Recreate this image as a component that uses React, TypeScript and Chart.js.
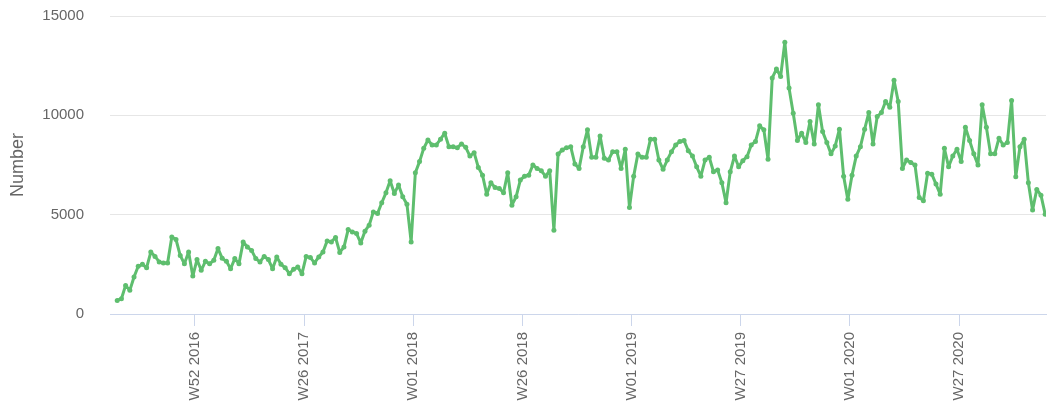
import React, { useEffect, useRef } from "react";
import { Chart, registerables } from "chart.js";

Chart.register(...registerables);

// Weekly values, starting at W33 2016
const VALUES: number[] = [
  680, 770, 1440, 1190, 1860, 2400, 2500, 2330, 3120, 2900,
  2620, 2570, 2570, 3880, 3750, 2950, 2530, 3120, 1910, 2740,
  2200, 2650, 2530, 2700, 3300, 2800, 2650, 2280, 2790, 2530,
  3630, 3370, 3200, 2790, 2620, 2900, 2740, 2280, 2870, 2500,
  2330, 2030, 2250, 2360, 2030, 2900, 2840, 2570, 2870, 3120,
  3680, 3630, 3850, 3100, 3370, 4250, 4130, 4050, 3580, 4170,
  4470, 5140, 5060, 5600, 6100, 6710, 6070, 6490, 5900, 5530,
  3630, 7110, 7670, 8340, 8760, 8510, 8510, 8800, 9100, 8420,
  8420, 8370, 8560, 8390, 7950, 8120, 7380, 6990, 6030, 6610,
  6370, 6320, 6100, 7110, 5480, 5900, 6740, 6940, 6990, 7500,
  7330, 7210, 6940, 7210, 4220, 8050, 8260, 8370, 8420, 7550,
  7330, 8420, 9270, 7890, 7890, 8960, 7840, 7750, 8170, 8170,
  7330, 8290, 5360, 6940, 8050, 7890, 7890, 8800, 8800, 7750,
  7280, 7750, 8170, 8510, 8680, 8730, 8220, 7950, 7410, 6940,
  7750, 7890, 7160, 7250, 6610, 5600, 7160, 7950, 7410, 7720,
  7920, 8510, 8680, 9470, 9270, 7790, 11880, 12330, 11960, 13680,
  11370, 10110, 8730, 9100, 8630, 9690, 8560, 10530, 9180, 8630,
  8060, 8460, 9300, 6940, 5770, 6990, 7950, 8420, 9300, 10140,
  8560, 9940, 10140, 10700, 10410, 11760, 10700, 7330, 7750, 7620,
  7500, 5870, 5700, 7080, 7040, 6540, 6030, 8340, 7410, 7950,
  8290, 7670, 9400, 8730, 8060, 7500, 10530, 9400, 8060, 8060,
  8850, 8510, 8630, 10750, 6910, 8420, 8800, 6610, 5230, 6270,
  5980, 5020,
];

const TICK_LABELS: string[] = [
  "W52 2016",
  "W26 2017",
  "W01 2018",
  "W26 2018",
  "W01 2019",
  "W27 2019",
  "W01 2020",
  "W27 2020",
];
const FIRST_TICK = 18.5;
const TICK_STEP = 26;

const Y_TICKS: number[] = [0, 5000, 10000, 15000];
const Y_TITLE = "Number";

const LINE_COLOR = "rgb(94, 190, 110)";
const FONT_FAMILY = '"Liberation Sans", Arial, Helvetica, sans-serif';

export default function App() {
  const canvasRef = useRef<HTMLCanvasElement | null>(null);

  useEffect(() => {
    if (!canvasRef.current) return;
    const points = VALUES.map((v, i) => ({ x: i, y: v }));
    const tickValues = TICK_LABELS.map((_, k) => FIRST_TICK + k * TICK_STEP);

    const chart = new Chart(canvasRef.current, {
      type: "line",
      data: {
        datasets: [
          {
            data: points,
            borderColor: LINE_COLOR,
            backgroundColor: LINE_COLOR,
            borderWidth: 3,
            borderJoinStyle: "round",
            borderCapStyle: "round",
            pointRadius: 2.5,
            pointBorderWidth: 0,
            pointBackgroundColor: LINE_COLOR,
            tension: 0,
            fill: false,
          },
        ],
      },
      options: {
        animation: false,
        responsive: true,
        maintainAspectRatio: false,
        layout: { padding: { top: 16, right: 2, bottom: 0, left: 0 } },
        plugins: {
          legend: { display: false },
          tooltip: { enabled: false },
        },
        scales: {
          x: {
            type: "linear",
            min: -1.72,
            max: 221.2,
            afterBuildTicks: (scale: any) => {
              scale.ticks = tickValues.map((v) => ({ value: v }));
            },
            afterFit: (scale: any) => {
              scale.height = 96;
            },
            grid: {
              display: true,
              drawOnChartArea: false,
              drawTicks: true,
              tickLength: 12,
              color: "#ccd6eb",
              lineWidth: 1,
            },
            border: { display: true, color: "#ccd6eb", width: 1 },
            ticks: {
              autoSkip: false,
              maxRotation: 90,
              minRotation: 90,
              padding: 6,
              color: "#666666",
              font: { family: FONT_FAMILY, size: 15 },
              callback: (value: any) => {
                const k = tickValues.findIndex((t) => Math.abs(t - value) < 1e-6);
                return k >= 0 ? TICK_LABELS[k] : "";
              },
            },
          },
          y: {
            type: "linear",
            min: Y_TICKS[0],
            max: Y_TICKS[Y_TICKS.length - 1],
            afterBuildTicks: (scale: any) => {
              scale.ticks = Y_TICKS.map((v) => ({ value: v }));
            },
            afterFit: (scale: any) => {
              scale.width = 110;
              scale.paddingTop = 0;
              scale.paddingBottom = 0;
            },
            grid: {
              color: "#e6e6e6",
              lineWidth: 1,
              drawTicks: false,
            },
            border: { display: false },
            ticks: {
              padding: 26,
              color: "#666666",
              font: { family: FONT_FAMILY, size: 15 },
              callback: (value: any) => String(value),
            },
            title: {
              display: true,
              text: Y_TITLE,
              color: "#666666",
              font: { family: FONT_FAMILY, size: 18 },
              padding: { top: 7, bottom: 0 },
            },
          },
        },
      },
    });
    return () => chart.destroy();
  }, []);

  return (
    <div
      style={{
        position: "absolute",
        left: 0,
        top: 0,
        width: 1050,
        height: 410,
        background: "#ffffff",
      }}
    >
      <canvas ref={canvasRef} />
    </div>
  );
}
